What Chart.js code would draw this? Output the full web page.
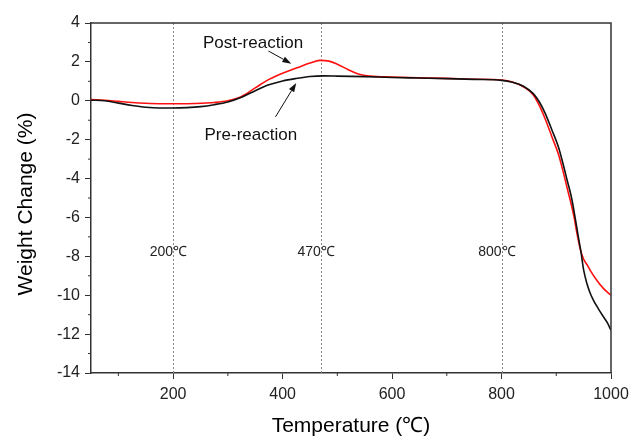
<!DOCTYPE html>
<html>
<head>
  <title>Weight Change vs Temperature</title>
  <script src="https://cdn.jsdelivr.net/npm/chart.js"></script>
  <style>
    body { margin: 0; background: white; }
    #wrap { width: 632px; height: 440px; }
  </style>
</head>
<body>
  <div id="wrap"><canvas id="tgChart" width="632" height="440"></canvas></div>

  <script>
    // Pre-reaction (black)
    const preTemp = [50, 75, 100, 125, 150, 175, 200, 225, 250, 275, 300, 325, 350, 375, 400, 425, 450, 475, 500, 550, 600, 650, 700, 750, 800, 820, 840, 858, 870, 880, 892, 904, 912, 920, 928, 935, 940, 945, 950, 956, 962, 968, 977, 986, 993, 1000];
    const preWeight = [0.03, 0.0, -0.12, -0.24, -0.33, -0.37, -0.37, -0.35, -0.3, -0.2, -0.06, 0.18, 0.52, 0.82, 1.02, 1.15, 1.25, 1.28, 1.27, 1.24, 1.2, 1.17, 1.14, 1.1, 1.05, 0.95, 0.75, 0.37, -0.1, -0.66, -1.5, -2.38, -3.2, -4.1, -5.0, -6.1, -6.95, -7.75, -8.7, -9.4, -9.9, -10.26, -10.7, -11.1, -11.4, -11.8];

    // Post-reaction (red)
    const postTemp = [50, 75, 100, 125, 150, 175, 200, 225, 250, 275, 300, 325, 350, 375, 400, 425, 450, 468, 485, 500, 520, 540, 560, 600, 650, 700, 750, 800, 820, 840, 858, 870, 880, 892, 904, 912, 920, 928, 933, 938, 944, 950, 956, 962, 974, 986, 1000];
    const postWeight = [0.06, 0.03, -0.03, -0.09, -0.13, -0.15, -0.15, -0.15, -0.13, -0.09, 0.0, 0.22, 0.66, 1.1, 1.42, 1.68, 1.94, 2.08, 2.04, 1.88, 1.6, 1.36, 1.27, 1.22, 1.18, 1.15, 1.11, 1.07, 0.97, 0.72, 0.3, -0.3, -0.95, -1.85, -2.75, -3.58, -4.5, -5.4, -6.05, -6.85, -7.65, -8.15, -8.42, -8.72, -9.23, -9.65, -10.0];

    const markTemps = [200, 470, 800];
    const xTicks = [200, 400, 600, 800, 1000];
    const xMinor = [100, 300, 500, 700, 900];
    const yMinor = [3, 1, -1, -3, -5, -7, -9, -11, -13];

    const FONT = '"Liberation Sans", Arial, sans-serif';

    function toPoints(xs, ys) {
      return xs.map((x, i) => ({ x: x, y: ys[i] }));
    }

    function arrow(ctx, x1, y1, x2, y2) {
      const a = Math.atan2(y2 - y1, x2 - x1);
      const len = 9, w = 3;
      ctx.beginPath();
      ctx.moveTo(x1, y1);
      ctx.lineTo(x2 - Math.cos(a) * len, y2 - Math.sin(a) * len);
      ctx.stroke();
      ctx.beginPath();
      ctx.moveTo(x2, y2);
      ctx.lineTo(x2 - Math.cos(a) * len - Math.sin(a) * w, y2 - Math.sin(a) * len + Math.cos(a) * w);
      ctx.lineTo(x2 - Math.cos(a) * len + Math.sin(a) * w, y2 - Math.sin(a) * len - Math.cos(a) * w);
      ctx.closePath();
      ctx.fill();
    }

    // frame, minor ticks, dashed markers, notes, axis titles
    const extras = {
      id: 'extras',
      beforeDatasetsDraw(chart) {
        const { ctx, chartArea: a, scales: { x, y } } = chart;
        ctx.save();
        ctx.strokeStyle = '#888';
        ctx.lineWidth = 1;
        ctx.setLineDash([2, 2]);
        markTemps.forEach(t => {
          const px = Math.round(x.getPixelForValue(t)) + 0.5;
          ctx.beginPath();
          ctx.moveTo(px, a.top);
          ctx.lineTo(px, a.bottom);
          ctx.stroke();
        });
        ctx.setLineDash([]);
        ctx.fillStyle = '#222';
        ctx.font = '14px ' + FONT;
        ctx.textBaseline = 'middle';
        const ly = y.getPixelForValue(-7.8);
        markTemps.forEach(t => {
          const px = x.getPixelForValue(t);
          ctx.textAlign = 'right';
          ctx.fillText(String(t), px, ly);
          ctx.textAlign = 'left';
          ctx.fillText('℃', px, ly);
        });
        ctx.restore();
      },
      afterDraw(chart) {
        const { ctx, chartArea: a, scales: { x, y } } = chart;
        ctx.save();
        ctx.strokeStyle = '#333';
        ctx.lineWidth = 1.5;
        ctx.beginPath();
        ctx.moveTo(a.left, a.top);
        ctx.lineTo(a.right, a.top);
        ctx.lineTo(a.right, a.bottom);
        ctx.stroke();

        ctx.lineWidth = 1;
        xMinor.forEach(t => {
          const px = x.getPixelForValue(t);
          ctx.beginPath();
          ctx.moveTo(px, a.bottom);
          ctx.lineTo(px, a.bottom + 3);
          ctx.stroke();
        });
        yMinor.forEach(v => {
          const py = y.getPixelForValue(v);
          ctx.beginPath();
          ctx.moveTo(a.left, py);
          ctx.lineTo(a.left - 3, py);
          ctx.stroke();
        });

        // labels with arrows
        ctx.fillStyle = '#111';
        ctx.strokeStyle = '#111';
        ctx.lineWidth = 1;
        ctx.font = '17px ' + FONT;
        ctx.textAlign = 'center';
        ctx.textBaseline = 'middle';
        ctx.fillText('Post-reaction', x.getPixelForValue(346), y.getPixelForValue(2.94));
        ctx.fillText('Pre-reaction', x.getPixelForValue(342), y.getPixelForValue(-1.77));
        arrow(ctx, x.getPixelForValue(374), y.getPixelForValue(2.56), x.getPixelForValue(416), y.getPixelForValue(1.91));
        arrow(ctx, x.getPixelForValue(387), y.getPixelForValue(-0.83), x.getPixelForValue(425), y.getPixelForValue(0.92));

        // axis titles
        ctx.fillStyle = '#000';
        ctx.font = '21px ' + FONT;
        ctx.fillText('Temperature (℃)', (a.left + a.right) / 2, 426);
        ctx.translate(26, (a.top + a.bottom) / 2 + 6);
        ctx.rotate(-Math.PI / 2);
        ctx.fillText('Weight Change (%)', 0, 0);
        ctx.restore();
      }
    };

    const ctx = document.getElementById('tgChart').getContext('2d');
    const chart = new Chart(ctx, {
      type: 'line',
      data: {
        datasets: [{
          label: 'Pre-reaction',
          data: toPoints(preTemp, preWeight),
          borderColor: '#111',
          borderWidth: 1.6,
          pointRadius: 0,
          cubicInterpolationMode: 'monotone',
          fill: false
        }, {
          label: 'Post-reaction',
          data: toPoints(postTemp, postWeight),
          borderColor: '#ff1010',
          borderWidth: 1.6,
          pointRadius: 0,
          cubicInterpolationMode: 'monotone',
          fill: false
        }]
      },
      options: {
        responsive: false,
        animation: false,
        events: [],
        layout: { padding: { left: 0, right: 21, top: 23, bottom: 0 } },
        plugins: { legend: { display: false }, tooltip: { enabled: false } },
        scales: {
          x: {
            type: 'linear',
            min: 50,
            max: 1000,
            afterBuildTicks: s => { s.ticks = xTicks.map(v => ({ value: v })); },
            afterFit: s => { s.height = 67; s.paddingRight = 0; s.paddingLeft = 0; },
            grid: { drawOnChartArea: false, tickLength: 6, tickColor: '#333', tickWidth: 1 },
            border: { color: '#333', width: 1.5 },
            ticks: { color: '#222', font: { family: FONT, size: 16 }, padding: 6, maxRotation: 0, callback: v => String(v) }
          },
          y: {
            min: -14,
            max: 4,
            ticks: { stepSize: 2, color: '#222', font: { family: FONT, size: 16 }, padding: 5 },
            afterFit: s => { s.width = 91; s.paddingTop = 0; s.paddingBottom = 0; },
            grid: { drawOnChartArea: false, tickLength: 6, tickColor: '#333', tickWidth: 1 },
            border: { color: '#333', width: 1.5 }
          }
        }
      },
      plugins: [extras]
    });
  </script>
</body>
</html>
